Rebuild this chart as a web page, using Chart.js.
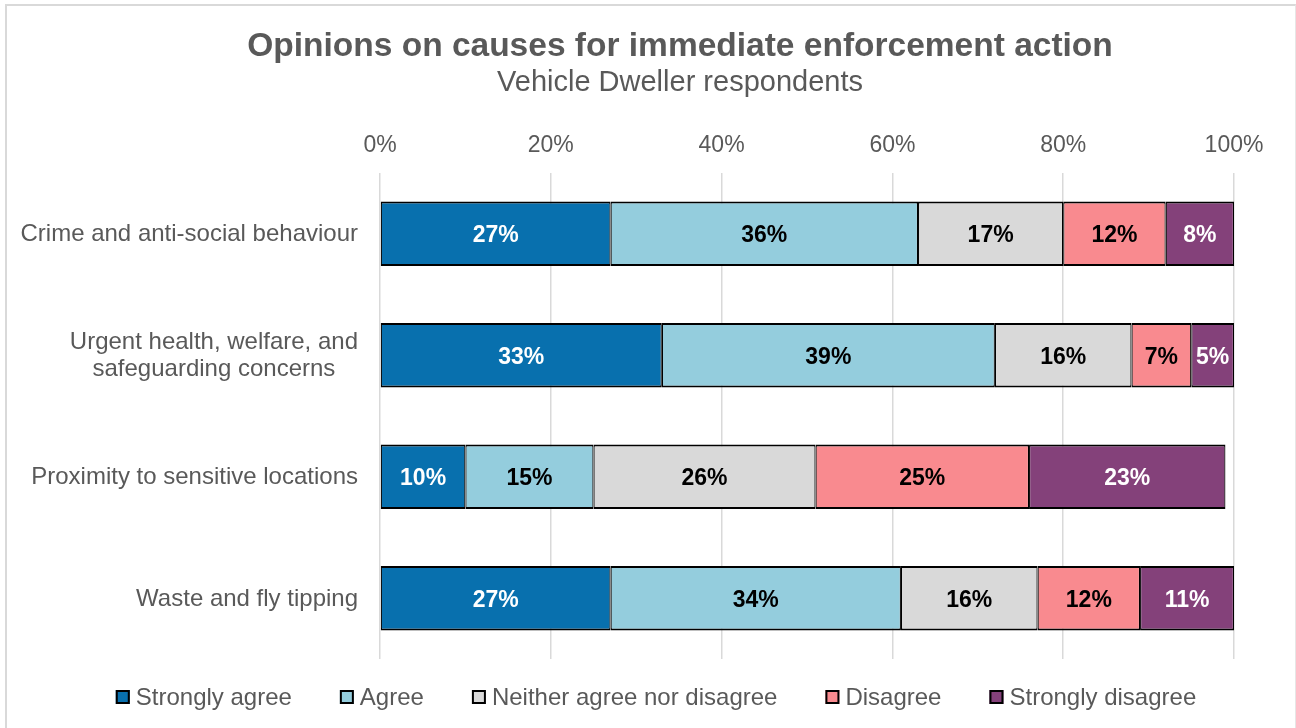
<!DOCTYPE html>
<html>
<head>
<meta charset="utf-8">
<title>Opinions on causes for immediate enforcement action</title>
<script src="https://cdn.jsdelivr.net/npm/chart.js@4.4.1/dist/chart.umd.min.js"></script>
<style>
  html, body { margin: 0; padding: 0; background: #fff; overflow: hidden; }
  #frame {
    position: absolute; left: 5px; top: 4px; width: 1288px; height: 800px;
    border-top: 2px solid #d9d9d9; border-left: 2px solid #d9d9d9; border-right: 1px solid #e6e6e6;
  }
  #chart { position: absolute; left: 0; top: 0; }
</style>
</head>
<body>
<div id="frame"></div>
<canvas id="chart" width="1296" height="728"></canvas>
<script>
const FONT = '"Liberation Sans", Arial, sans-serif';
const TEXT = '#595959';

const titleText = 'Opinions on causes for immediate enforcement action';
const subtitleText = 'Vehicle Dweller respondents';

const categories = [
    'Crime and anti-social behaviour',
    ['Urgent health, welfare, and', 'safeguarding concerns'],
    'Proximity to sensitive locations',
    'Waste and fly tipping'
];

const seriesNames = ['Strongly agree', 'Agree', 'Neither agree nor disagree', 'Disagree', 'Strongly disagree'];
const stronglyAgree = [27, 33, 10, 27];
const agree = [36, 39, 15, 34];
const neither = [17, 16, 26, 16];
const disagree = [12, 7, 25, 12];
const stronglyDisagree = [8, 5, 23, 11];

const tickValues = [0, 20, 40, 60, 80, 100];

const colours = ['#0870ae', '#94cddd', '#d9d9d9', '#f98a8f', '#84417a'];
const labelColours = ['#ffffff', '#000000', '#000000', '#000000', '#ffffff'];

const seriesValues = [stronglyAgree, agree, neither, disagree, stronglyDisagree];

const datasets = seriesNames.map((name, i) => ({
    label: name,
    data: seriesValues[i],
    backgroundColor: colours[i],
    borderColor: '#000000',
    borderWidth: { top: 2, bottom: 2, left: 1.2, right: 1.2 },
    borderSkipped: false,
    barPercentage: 0.53,
    categoryPercentage: 1
}));

// title + subtitle, centred over the frame
const header = {
    id: 'header',
    afterDraw(chart) {
        const ctx = chart.ctx;
        ctx.save();
        ctx.fillStyle = TEXT;
        ctx.textAlign = 'center';
        ctx.textBaseline = 'middle';
        ctx.font = 'bold 33.5px ' + FONT;
        ctx.fillText(titleText, 680, 47);
        ctx.font = '29px ' + FONT;
        ctx.fillText(subtitleText, 680, 83);
        ctx.restore();
    }
};

// category names: right aligned to the axis, wrapped lines centred on each other
const categoryLabels = {
    id: 'categoryLabels',
    afterDraw(chart) {
        const ctx = chart.ctx;
        const yScale = chart.scales.y;
        const right = chart.chartArea.left - 22;
        ctx.save();
        ctx.font = '24px ' + FONT;
        ctx.fillStyle = TEXT;
        ctx.textAlign = 'center';
        ctx.textBaseline = 'middle';
        chart.data.labels.forEach((label, i) => {
            const lines = [].concat(label);
            const w = Math.max(...lines.map(l => ctx.measureText(l).width));
            const y0 = yScale.getPixelForTick(i) - (lines.length - 1) * 27 / 2;
            lines.forEach((l, k) => ctx.fillText(l, right - w / 2, y0 + k * 27 + 1));
        });
        ctx.restore();
    }
};

// percentage inside each segment
const segmentLabels = {
    id: 'segmentLabels',
    afterDatasetsDraw(chart) {
        const ctx = chart.ctx;
        ctx.save();
        ctx.font = 'bold 23px ' + FONT;
        ctx.textAlign = 'center';
        ctx.textBaseline = 'middle';
        chart.data.datasets.forEach((ds, i) => {
            chart.getDatasetMeta(i).data.forEach((bar, j) => {
                ctx.fillStyle = labelColours[i];
                ctx.fillText(ds.data[j] + '%', (bar.x + bar.base) / 2, bar.y + 2);
            });
        });
        ctx.restore();
    }
};

// legend row under the plot
const legendRow = {
    id: 'legendRow',
    afterDraw(chart) {
        const ctx = chart.ctx;
        const box = 14, gapText = 6, gapItem = 48, y = 697;
        ctx.save();
        ctx.font = '24px ' + FONT;
        ctx.textBaseline = 'middle';
        ctx.textAlign = 'left';
        const items = chart.data.datasets.map(ds => ({
            ds, w: box + gapText + ctx.measureText(ds.label).width
        }));
        const total = items.reduce((s, it) => s + it.w, 0) + gapItem * (items.length - 1);
        let x = 656 - total / 2;
        items.forEach(it => {
            ctx.fillStyle = it.ds.backgroundColor;
            ctx.fillRect(x, y - box / 2, box, box);
            ctx.strokeStyle = '#000';
            ctx.lineWidth = 2;
            ctx.strokeRect(x + 1, y - box / 2 + 1, box - 2, box - 2);
            ctx.fillStyle = TEXT;
            ctx.fillText(it.ds.label, x + box + gapText, y + 1);
            x += it.w + gapItem;
        });
        ctx.restore();
    }
};

new Chart(document.getElementById('chart'), {
    type: 'bar',
    data: { labels: categories, datasets: datasets },
    options: {
        indexAxis: 'y',
        responsive: false,
        animation: false,
        layout: { padding: { top: 100, left: 0, right: 62, bottom: 69 } },
        plugins: {
            legend: { display: false },
            title: { display: false },
            tooltip: { enabled: false }
        },
        scales: {
            x: {
                position: 'top',
                stacked: true,
                min: 0,
                max: 100,
                afterBuildTicks: scale => { scale.ticks = tickValues.map(v => ({ value: v })); },
                afterFit: scale => { scale.height = 73; },
                grid: { color: '#d9d9d9', lineWidth: 1.5, drawTicks: false },
                border: { display: false },
                ticks: {
                    padding: 14,
                    color: TEXT,
                    font: { family: FONT, size: 23 },
                    callback: v => v + '%'
                }
            },
            y: {
                stacked: true,
                afterFit: scale => { scale.width = 380; },
                grid: { display: false },
                border: { display: false },
                ticks: { display: false }
            }
        }
    },
    plugins: [header, categoryLabels, segmentLabels, legendRow]
});
</script>
</body>
</html>
